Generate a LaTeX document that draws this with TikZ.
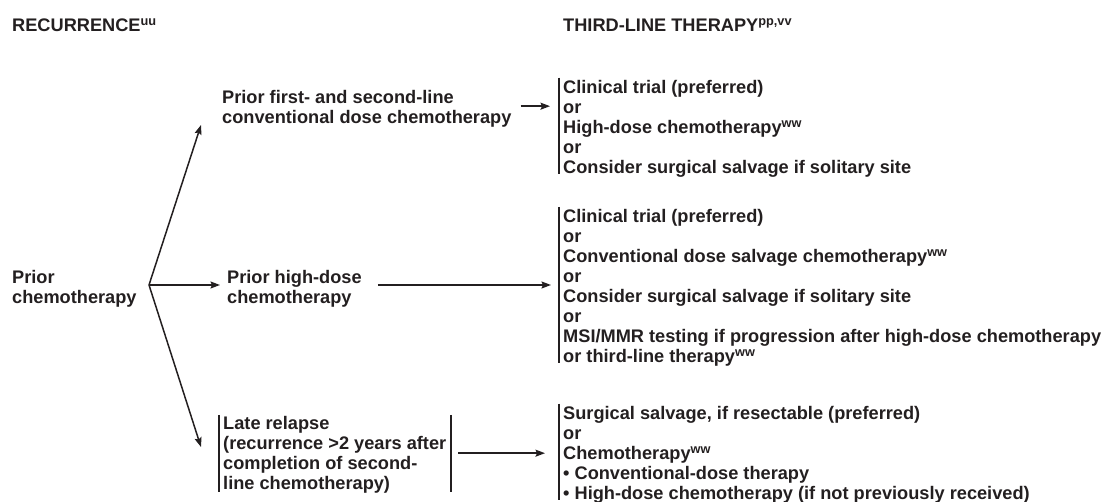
\documentclass[tikz,border=0pt]{standalone}
\usepackage{fontspec}
\setmainfont{Liberation Sans}
\usetikzlibrary{arrows.meta,calc}
\definecolor{ink}{RGB}{35,31,32}
\newcommand\supx[1]{\smash{\textsuperscript{#1}}}
\begin{document}
\begin{tikzpicture}[x=1pt,y=-1pt,
  txt/.style={inner sep=0pt, align=left, anchor=north west, text=ink,
    font=\fontsize{18.2}{20}\selectfont\bfseries},
  head/.style={inner sep=0pt, anchor=base west, text=ink,
    font=\fontsize{18.2}{20}\selectfont\bfseries},
  opts/.style={txt, inner xsep=4pt},
  arr/.style={draw=ink, line width=1.5pt,
    -{Stealth[length=9.5pt,width=7pt,inset=1.5pt]}},
  bar/.style={draw=ink, line width=1.5pt}]
\useasboundingbox (0,0) rectangle (1109,502);

% column headings
\node[head] (rec) at (12,31.5) {RECURRENCE\supx{uu}};
\node[head] (third) at (563,31.5) {THIRD-LINE THERAPY\supx{pp,vv}};

% recurrence situations
\node[txt] (prior) at (12,270.5) {Prior\\chemotherapy};
\node[txt] (first) at (222,89.8) {Prior first- and second-line\\conventional dose chemotherapy};
\node[txt] (hd) at (227,269.8) {Prior high-dose\\chemotherapy};
\node[txt, inner xsep=4pt] (late) at (219,416.5)
  {Late relapse\\(recurrence >2 years after\\completion of second-\\line chemotherapy)};
\coordinate (lateNE) at ([xshift=232pt]late.north west);
\coordinate (lateSE) at ([xshift=232pt]late.south west);
\coordinate (lateE) at ([xshift=232pt]late.west);
\draw[bar] ([yshift=1.5pt]late.north west) -- ([yshift=2.3pt]late.south west);
\draw[bar] ([yshift=1.5pt]lateNE) -- ([yshift=2.3pt]lateSE);

% third-line options
\node[opts] (b1) at (559,80.1)
  {Clinical trial (preferred)\\or\\High-dose chemotherapy\supx{ww}\\or\\Consider surgical salvage if solitary site};
\node[opts] (b2) at (559,209.5)
  {Clinical trial (preferred)\\or\\Conventional dose salvage chemotherapy\supx{ww}\\or\\Consider surgical salvage if solitary site\\or\\MSI/MMR testing if progression after high-dose chemotherapy\\or third-line therapy\supx{ww}};
\node[opts] (b3) at (559,406.1)
  {Surgical salvage, if resectable (preferred)\\or\\Chemotherapy\supx{ww}\\• Conventional-dose therapy\\• High-dose chemotherapy (if not previously received)};
\foreach \b in {b1,b2,b3}
  \draw[bar] ([yshift=2.5pt]\b.north west) -- ([yshift=3.5pt]\b.south west);

% branching from prior chemotherapy
\coordinate (split) at (149,285);
\coordinate (upTip) at (201,125);
\coordinate (downTip) at (201,447);
\draw[arr] (split) -- (upTip);
\draw[arr, shorten >=7pt] (split) -- (split -| hd.west);
\draw[arr] (split) -- (downTip);

% arrows to the third-line options
\coordinate (a1) at ([yshift=2.3pt]first.east);
\draw[arr, shorten <=9pt, shorten >=9pt] (a1) -- (a1 -| b1.west);
\draw[arr, shorten <=16pt, shorten >=8pt] (split -| hd.east) -- (split -| b2.west);
\coordinate (a3) at ([yshift=2pt]lateE);
\draw[arr, shorten <=7pt, shorten >=14pt] (a3) -- (a3 -| b3.west);
\end{tikzpicture}
\end{document}
